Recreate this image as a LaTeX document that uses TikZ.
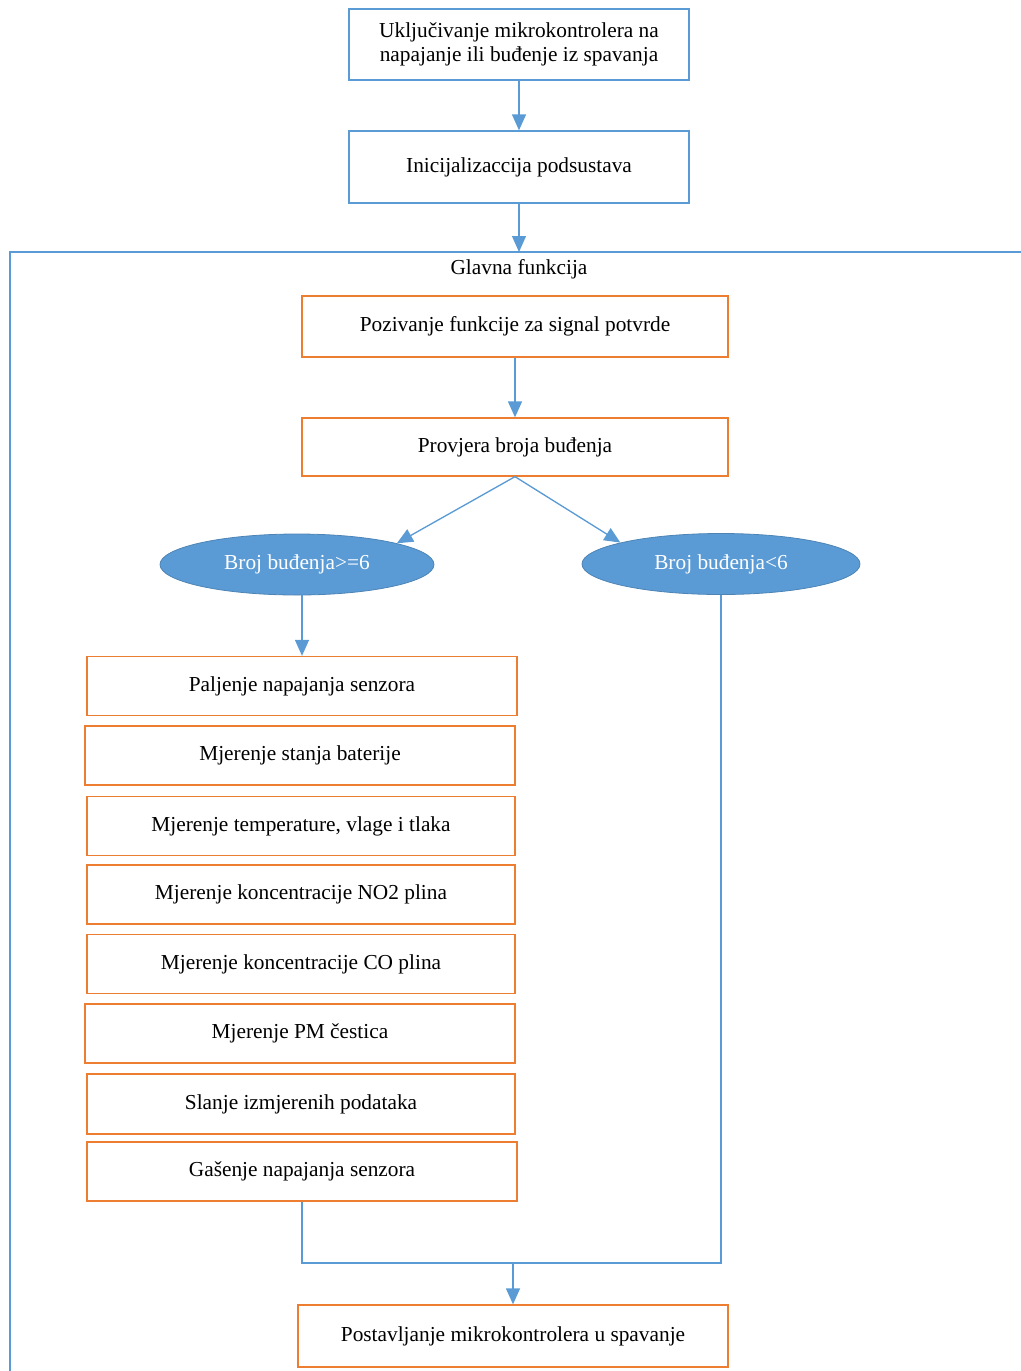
\documentclass[tikz,border=0pt]{standalone}
\usepackage{fontspec}
\setmainfont{Liberation Serif}
\usetikzlibrary{arrows.meta,shapes.geometric}
\definecolor{lblue}{HTML}{5B9BD5}
\definecolor{lorange}{HTML}{ED7D31}
\begin{document}
\begin{tikzpicture}[x=0.75pt,y=-0.75pt,
  txt/.style={font=\fontsize{16}{18}\selectfont, align=center, inner sep=0pt},
  bluebox/.style={txt, draw=lblue, line width=1pt, rectangle},
  orbox/.style={txt, draw=lorange, line width=1pt, rectangle},
  oval/.style={txt, ellipse, fill=lblue, draw=lblue!85!black, line width=0.6pt, text=white},
  conn/.style={draw=lblue, line width=1pt},
  arr/.style={conn, -{Triangle[length=12pt,width=10.5pt]}}]
\useasboundingbox (0,0) rectangle (1021,1371);
% top boxes
\node[bluebox, minimum width=255pt, minimum height=53.25pt] (b1) at (519,44.5)
  {Uključivanje mikrokontrolera na\\napajanje ili buđenje iz spavanja};
\node[bluebox, minimum width=255pt, minimum height=54pt] (b2) at (519,167)
  {Inicijalizaccija podsustava};
% frame
\coordinate (fl) at (10,252);
\coordinate (fr) at (1021,252);
\coordinate (fb) at (10,1371);
\coordinate (ftop) at (519,252);
\draw[conn] (fr) -- (fl) -- (fb);
\node[txt] (glavna) at (519,269) {Glavna funkcija};
% main function
\node[orbox, minimum width=319.5pt, minimum height=45.75pt] (o1) at (515,326.5)
  {Pozivanje funkcije za signal potvrde};
\node[orbox, minimum width=319.5pt, minimum height=43.5pt] (o2) at (515,447)
  {Provjera broja buđenja};
\node[oval, minimum width=205.5pt, minimum height=45.75pt] (e1) at (297,564.5)
  {Broj buđenja>=6};
\node[oval, minimum width=208.5pt, minimum height=45.75pt] (e2) at (721,564)
  {Broj buđenja<6};
% stack
\node[orbox, minimum width=322.5pt, minimum height=44.25pt] (s1) at (302,686) {Paljenje napajanja senzora};
\node[orbox, minimum width=322.5pt, minimum height=44.25pt] (s2) at (300,755.5) {Mjerenje stanja baterije};
\node[orbox, minimum width=321pt, minimum height=44.25pt] (s3) at (301,826) {Mjerenje temperature, vlage i tlaka};
\node[orbox, minimum width=321pt, minimum height=44.25pt] (s4) at (301,894.5) {Mjerenje koncentracije NO2 plina};
\node[orbox, minimum width=321pt, minimum height=44.25pt] (s5) at (301,964) {Mjerenje koncentracije CO plina};
\node[orbox, minimum width=322.5pt, minimum height=44.25pt] (s6) at (300,1033.5) {Mjerenje PM čestica};
\node[orbox, minimum width=321pt, minimum height=45pt] (s7) at (301,1104) {Slanje izmjerenih podataka};
\node[orbox, minimum width=322.5pt, minimum height=44.25pt] (s8) at (302,1171.5) {Gašenje napajanja senzora};
\node[orbox, minimum width=322.5pt, minimum height=46.5pt] (f) at (513,1336)
  {Postavljanje mikrokontrolera u spavanje};
\coordinate (j) at (513,1263);
% connectors
\draw[arr] (b1) -- (b2);
\draw[arr] (b2.south) -- (ftop);
\draw[arr] (o1) -- (o2);
\draw[arr] (o2.south) -- (e1.12);
\draw[arr] (o2.south) -- (e2.168);
\draw[arr] (s1.north |- e1.south) -- (s1.north);
\draw[conn] (s8.south) |- (j) -| (e2.south);
\draw[arr] (j) -- (f.north);
\end{tikzpicture}
\end{document}
